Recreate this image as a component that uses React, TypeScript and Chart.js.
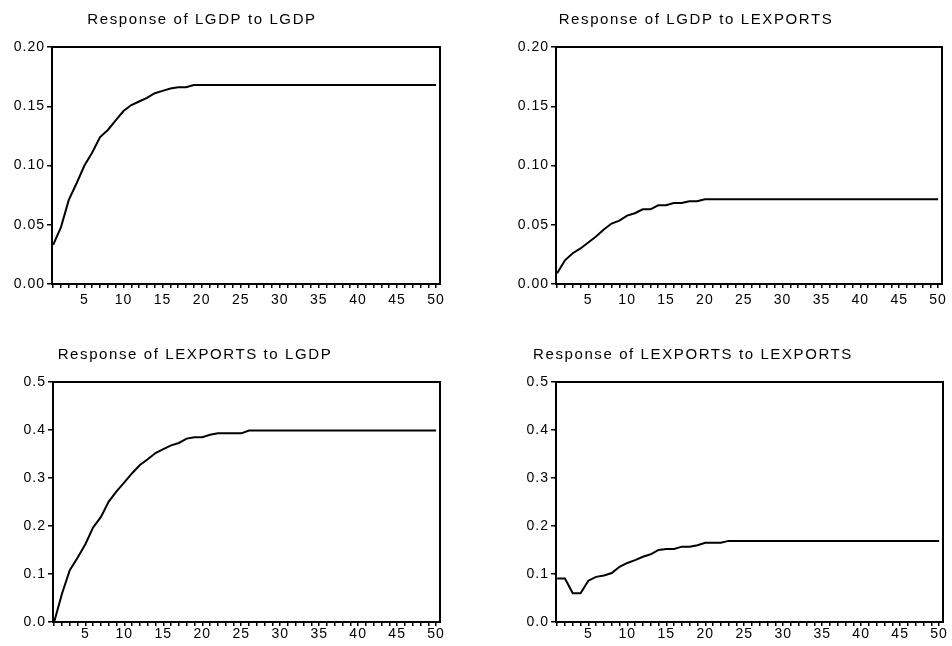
import React, { useEffect, useRef } from "react";
import { Chart, registerables } from "chart.js";

Chart.register(...registerables);

// ---- data ----
const periods = [
  1, 2, 3, 4, 5, 6, 7, 8, 9, 10, 11, 12, 13, 14, 15, 16, 17, 18, 19, 20,
  21, 22, 23, 24, 25, 26, 27, 28, 29, 30, 31, 32, 33, 34, 35, 36, 37, 38, 39, 40,
  41, 42, 43, 44, 45, 46, 47, 48, 49, 50,
];

const lgdpToLgdp = [
  0.033, 0.048, 0.071, 0.085, 0.1, 0.111, 0.124, 0.13, 0.138, 0.146,
  0.151, 0.154, 0.157, 0.161, 0.163, 0.165, 0.166, 0.166, 0.168, 0.168,
  0.168, 0.168, 0.168, 0.168, 0.168, 0.168, 0.168, 0.168, 0.168, 0.168,
  0.168, 0.168, 0.168, 0.168, 0.168, 0.168, 0.168, 0.168, 0.168, 0.168,
  0.168, 0.168, 0.168, 0.168, 0.168, 0.168, 0.168, 0.168, 0.168, 0.168,
];

const lgdpToLexports = [
  0.009, 0.02, 0.026, 0.03, 0.035, 0.04, 0.046, 0.051, 0.0535, 0.0577,
  0.0597, 0.063, 0.063, 0.0664, 0.0664, 0.0684, 0.0684, 0.0698, 0.0698, 0.0715,
  0.0715, 0.0715, 0.0715, 0.0715, 0.0715, 0.0715, 0.0715, 0.0715, 0.0715, 0.0715,
  0.0715, 0.0715, 0.0715, 0.0715, 0.0715, 0.0715, 0.0715, 0.0715, 0.0715, 0.0715,
  0.0715, 0.0715, 0.0715, 0.0715, 0.0715, 0.0715, 0.0715, 0.0715, 0.0715, 0.0715,
];

const lexportsToLgdp = [
  0.0, 0.059, 0.108, 0.134, 0.162, 0.197, 0.219, 0.251, 0.272, 0.291,
  0.31, 0.327, 0.339, 0.352, 0.36, 0.368, 0.373, 0.382, 0.385, 0.385,
  0.39, 0.393, 0.393, 0.393, 0.393, 0.399, 0.399, 0.399, 0.399, 0.399,
  0.399, 0.399, 0.399, 0.399, 0.399, 0.399, 0.399, 0.399, 0.399, 0.399,
  0.399, 0.399, 0.399, 0.399, 0.399, 0.399, 0.399, 0.399, 0.399, 0.399,
];

const lexportsToLexports = [
  0.0905, 0.0905, 0.06, 0.06, 0.086, 0.094, 0.097, 0.102, 0.115, 0.123,
  0.129, 0.136, 0.141, 0.15, 0.152, 0.152, 0.157, 0.157, 0.16, 0.165,
  0.165, 0.165, 0.169, 0.169, 0.169, 0.169, 0.169, 0.169, 0.169, 0.169,
  0.169, 0.169, 0.169, 0.169, 0.169, 0.169, 0.169, 0.169, 0.169, 0.169,
  0.169, 0.169, 0.169, 0.169, 0.169, 0.169, 0.169, 0.169, 0.169, 0.169,
];

const titles = [
  "Response of LGDP to LGDP",
  "Response of LGDP to LEXPORTS",
  "Response of LEXPORTS to LGDP",
  "Response of LEXPORTS to LEXPORTS",
];

const FONT = '"Liberation Sans", Arial, Helvetica, sans-serif';

type Panel = {
  title: string;
  values: number[];
  yMax: number;
  yStep: number;
  decimals: number;
  x: number;
  y: number;
  L: number;
  R: number;
  T: number;
  B: number;
  titleX: number;
  titleY: number;
  xPad: number;
};

const CW = 476;
const CH = 323;

const panels: Panel[] = [
  { title: titles[0], values: lgdpToLgdp, yMax: 0.2, yStep: 0.05, decimals: 2, x: 0, y: 0, L: 52, R: 36, T: 47, B: 39, titleX: 202, titleY: 24, xPad: 4 },
  { title: titles[1], values: lgdpToLexports, yMax: 0.2, yStep: 0.05, decimals: 2, x: 476, y: 0, L: 80, R: 10, T: 47, B: 39, titleX: 220, titleY: 24, xPad: 4 },
  { title: titles[2], values: lexportsToLgdp, yMax: 0.5, yStep: 0.1, decimals: 1, x: 0, y: 323, L: 53, R: 36, T: 59, B: 24, titleX: 195, titleY: 36, xPad: 0 },
  { title: titles[3], values: lexportsToLexports, yMax: 0.5, yStep: 0.1, decimals: 1, x: 476, y: 323, L: 80, R: 9, T: 59, B: 24, titleX: 217, titleY: 36, xPad: 0 },
];

function PanelChart({ p }: { p: Panel }) {
  const ref = useRef<HTMLCanvasElement | null>(null);
  useEffect(() => {
    if (!ref.current) return;
    const spacing = {
      id: "spacing",
      beforeLayout(chart: any) {
        chart.ctx.letterSpacing = "1px";
      },
      beforeDraw(chart: any) {
        chart.ctx.letterSpacing = "1px";
      },
      afterDraw(chart: any) {
        const { ctx, chartArea } = chart;
        ctx.save();
        ctx.strokeStyle = "#000";
        ctx.lineWidth = 2;
        ctx.strokeRect(chartArea.left, chartArea.top, chartArea.right - chartArea.left, chartArea.bottom - chartArea.top);
        ctx.letterSpacing = "1.6px";
        ctx.font = `15px ${FONT}`;
        ctx.fillStyle = "#000";
        ctx.textAlign = "center";
        ctx.textBaseline = "alphabetic";
        ctx.fillText(p.title, p.titleX, p.titleY);
        ctx.restore();
      },
    };
    const chart = new Chart(ref.current, {
      type: "line",
      data: {
        datasets: [
          {
            data: periods.map((t, i) => ({ x: t, y: p.values[i] })),
            borderColor: "#000",
            borderWidth: 2,
            pointRadius: 0,
            tension: 0,
            fill: false,
          },
        ],
      },
      options: {
        animation: false,
        responsive: false,
        devicePixelRatio: 1,
        layout: { padding: { left: 0, right: p.R, top: p.T, bottom: 0 } },
        plugins: { legend: { display: false }, title: { display: false }, tooltip: { enabled: false } },
        scales: {
          x: {
            type: "linear",
            min: 0.85,
            max: 50.5,
            border: { display: false },
            grid: { drawOnChartArea: false, drawTicks: true, tickLength: 4, color: "#000", lineWidth: 1.5 },
            afterBuildTicks: (scale: any) => {
              scale.ticks = periods.map((v) => ({ value: v }));
            },
            afterFit: (scale: any) => {
              scale.height = p.B;
            },
            ticks: {
              autoSkip: false,
              maxRotation: 0,
              padding: p.xPad,
              color: "#000",
              font: { family: FONT, size: 14 },
              callback: (v: any) => (Number(v) % 5 === 0 ? String(v) : ""),
            },
          },
          y: {
            min: 0,
            max: p.yMax,
            border: { display: false },
            grid: { drawOnChartArea: false, drawTicks: true, tickLength: 5, color: "#000", lineWidth: 1.5 },
            afterFit: (scale: any) => {
              scale.width = p.L;
            },
            ticks: {
              stepSize: p.yStep,
              padding: 2,
              color: "#000",
              font: { family: FONT, size: 14 },
              callback: (v: any) => Number(v).toFixed(p.decimals),
            },
          },
        },
      },
      plugins: [spacing],
    } as any);
    return () => chart.destroy();
  }, [p]);
  return (
    <canvas
      ref={ref}
      width={CW}
      height={CH}
      style={{ position: "absolute", left: p.x, top: p.y, width: CW, height: CH }}
    />
  );
}

export default function App() {
  return (
    <div style={{ position: "absolute", left: 0, top: 0, width: 952, height: 646, background: "#fff" }}>
      {panels.map((p, i) => (
        <PanelChart key={i} p={p} />
      ))}
    </div>
  );
}
